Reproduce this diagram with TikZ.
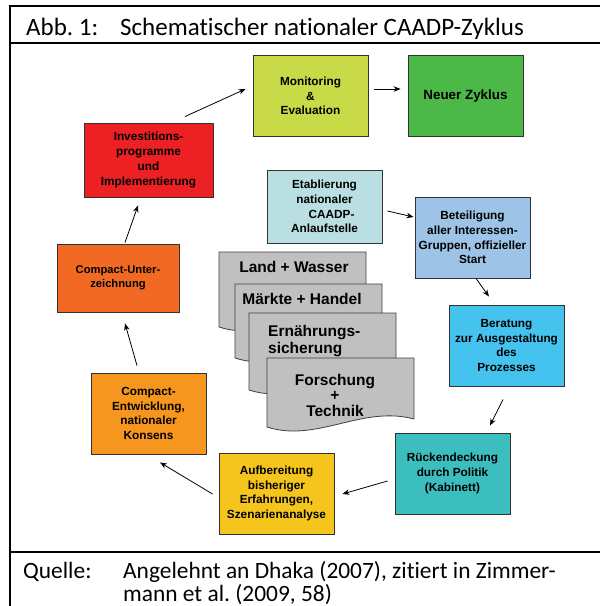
\documentclass[tikz,border=0pt]{standalone}
\usepackage{fontspec}
\setmainfont{Liberation Sans}
\newfontfamily\capfont[Ligatures=NoCommon]{Carlito}
\usetikzlibrary{arrows.meta,calc}
\definecolor{cMon}{RGB}{200,218,72}
\definecolor{cNeu}{RGB}{76,184,72}
\definecolor{cInv}{RGB}{237,32,36}
\definecolor{cCU}{RGB}{241,105,35}
\definecolor{cCE}{RGB}{246,150,30}
\definecolor{cAuf}{RGB}{245,197,30}
\definecolor{cRue}{RGB}{60,190,190}
\definecolor{cBer}{RGB}{68,195,238}
\definecolor{cBet}{RGB}{157,195,230}
\definecolor{cEta}{RGB}{185,223,226}
\definecolor{cDoc}{RGB}{192,192,192}
\tikzset{
  box/.style={draw=black!80, line width=0.9pt, minimum width=115pt, minimum height=81pt,
    inner sep=0pt, align=center, font=\fontsize{11.8}{14.7}\selectfont\bfseries, text=black},
  arr/.style={-{Stealth[length=7pt,width=5.5pt]}, line width=0.8pt},
  doctext/.style={font=\fontsize{15.5}{17.5}\selectfont\bfseries, inner sep=0pt},
  frameline/.style={line width=2.2pt},
  pics/docpic/.style={code={
    \draw[fill=cDoc, draw=black!75, line width=0.8pt]
      (0,0) -- (147,0) -- (147,#1-8) .. controls (95,#1-22) and (50,#1+16) .. (0,#1) -- cycle;}}
}
\begin{document}
\begin{tikzpicture}[x=1pt,y=-1pt]
\useasboundingbox (0,0) rectangle (600,606);
% frame
\draw[frameline] (10.3,606) -- (10.3,6.2) -- (600,6.2);
\draw[frameline] (10.3,42.7) -- (600,42.7);
\draw[frameline] (10.3,551.8) -- (600,551.8);
% title and source
\node[anchor=base west, inner sep=0pt, font=\capfont\fontsize{25}{30}\selectfont] (title) at (26,35)
  {\makebox[94pt][l]{Abb.\ 1:}Schematischer nationaler CAADP-Zyklus};
\node[anchor=base west, inner sep=0pt, align=left, font=\capfont\fontsize{23.4}{23}\selectfont] (source) at (23,601)
  {\makebox[100pt][l]{Quelle:}Angelehnt an Dhaka (2007), zitiert in Zimmer-\\\hspace*{100pt}mann et al.\ (2009, 58)};
% boxes
\node[box, fill=cMon] (mon) at (310.5,96) {Monitoring\\\&\\Evaluation};
\node[box, fill=cNeu, font=\fontsize{13.4}{16}\selectfont\bfseries] (neu) at (465.5,96) {Neuer Zyklus};
\node[box, fill=cInv, minimum width=129pt, minimum height=74pt] (inv) at (148.5,160) {Investitions-\\programme\\und\\Implementierung};
\node[box, fill=cCU, minimum width=122pt, minimum height=68pt, font=\fontsize{11.2}{14}\selectfont\bfseries] (cu) at (118,278) {Compact-Unter-\\zeichnung};
\node[box, fill=cCE] (ce) at (148.5,413.5) {Compact-\\Entwicklung,\\nationaler\\Konsens};
\node[box, fill=cAuf] (auf) at (276.5,493.5) {Aufbereitung\\bisheriger\\Erfahrungen,\\Szenarienanalyse};
\node[box, fill=cRue] (rue) at (452.5,473.5) {R\"uckendeckung\\durch Politik\\(Kabinett)};
\node[box, fill=cBer] (ber) at (506.5,345.5) {Beratung\\zur Ausgestaltung\\des\\Prozesses};
\node[box, fill=cBet] (bet) at (472.5,237.5) {Beteiligung\\aller Interessen-\\Gruppen, offizieller\\Start};
\node[box, fill=cEta, minimum height=73pt] (eta) at (324.5,206.5) {Etablierung\\nationaler\\\hspace*{14pt}CAADP-\\Anlaufstelle};
% documents
\pic at (219,252) {docpic=75};
\node[doctext, anchor=base] (land) at (294,272) {Land + Wasser};
\pic at (235,284) {docpic=74};
\node[doctext, anchor=base] (maerkte) at (302,304) {M\"arkte + Handel};
\pic at (249,313) {docpic=77};
\node[doctext, anchor=west, align=left] (ern) at (268,341) {Ern\"ahrungs-\\sicherung};
\pic at (267,358) {docpic=69};
\node[doctext, align=center, font=\fontsize{15.5}{15.5}\selectfont\bfseries] (forsch) at (335,395) {Forschung\\+\\Technik};
% arrows
\draw[arr] ([shift={(36.5,-6)}]inv.north) -- ([shift={(-7,-7)}]mon.west);
\draw[arr] ([shift={(6,-7)}]mon.east) -- ([shift={(-7,-7)}]neu.west);
\draw[arr] ([shift={(5,4.5)}]eta.east) -- ([shift={(-1,-20.5)}]bet.west);
\draw[arr] ([shift={(3.5,0)}]bet.south) -- ([shift={(-17.5,-8)}]ber.north);
\draw[arr] ([shift={(-3.5,13)}]ber.south) -- ([shift={(37.5,-7)}]rue.north);
\draw[arr] ([shift={(-7,7.5)}]rue.west) -- ([shift={(8,0.5)}]auf.east);
\draw[arr] ([shift={(-6,0.5)}]auf.west) -- ([shift={(11.5,8)}]ce.south);
\draw[arr] ([shift={(-11.5,-7)}]ce.north) -- ([shift={(7,11)}]cu.south);
\draw[arr] ([shift={(7,-1)}]cu.north) -- ([shift={(-10.5,8)}]inv.south);
\end{tikzpicture}
\end{document}
